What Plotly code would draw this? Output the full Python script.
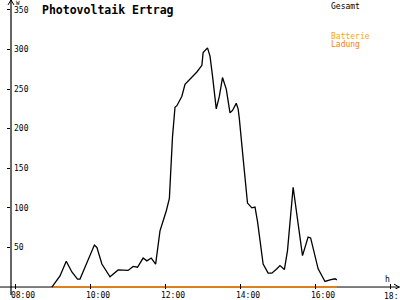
import plotly.graph_objects as go

# ---- data ----
times = ["08:59","09:12","09:22","09:31","09:40","09:44","09:52","10:07","10:11","10:19",
         "10:32","10:45","11:01","11:09","11:16","11:25","11:31","11:38","11:45","11:52",
         "12:02","12:07","12:12","12:16","12:19","12:27","12:32","12:40","12:51","12:59",
         "13:01","13:08","13:12","13:16","13:22","13:27","13:32","13:38","13:44","13:48",
         "13:54","13:57","13:59","14:05","14:12","14:19","14:24","14:28","14:37","14:45",
         "14:51","14:59","15:04","15:11","15:16","15:25","15:33","15:40","15:49","15:53",
         "16:05","16:16","16:24","16:32","16:35"]
gesamt = [0,14,32.5,19,10,10,25,53,50,29,
          13,21.6,21,26,25,36.6,33,36.6,29,71,
          96,112,189.6,227,229,241,256,262.5,271.6,280,
          296,302,291.6,266.6,225,241,264.6,250,220,223,
          232,225,212,162.5,106,100,101,83,29,17.5,
          17.5,23,27,22,46,126,79,39.6,63,62,
          23,7,9,10.4,9]
ladung = [0] * len(times)

x_tick_vals = [8, 10, 12, 14, 16, 18]
x_tick_text = ["08:00", "10:00", "12:00", "14:00", "16:00", "18:"]  # last label is cut at the edge
y_tick_vals = [50, 100, 150, 200, 250, 300, 350]

title_text = "Photovoltaik Ertrag"
legend_items = [("Gesamt", "#000000"), ("Batterie", "#FFA500"), ("Ladung", "#FF8000")]


def to_hours(s):
    h, m = s.split(":")
    return int(h) + int(m) / 60.0


hours = [to_hours(t) for t in times]

FONT = "DejaVu Sans Mono"
W, H = 400, 300
ML, MR, MT, MB = 11, 0, 0, 8
PW = W - ML - MR
PH = H - MT - MB
PX_PER_H = 37.5
X0 = 8 - 4 / PX_PER_H
X1 = X0 + PW / PX_PER_H
PX_PER_W = 0.8
Y0 = -2 / PX_PER_W
Y1 = Y0 + PH / PX_PER_W

fig = go.Figure()
fig.add_trace(go.Scatter(x=hours, y=ladung, mode="lines",
                         line=dict(color="#FF8000", width=1.6), name="Ladung"))
fig.add_trace(go.Scatter(x=hours, y=gesamt, mode="lines",
                         line=dict(color="#000000", width=1.3), name="Gesamt"))

# last tick label is placed as a right-aligned annotation so it does not overflow the page
axis_ticktext = x_tick_text[:-1] + [""]

fig.update_layout(
    width=W, height=H,
    margin=dict(l=ML, r=MR, t=MT, b=MB),
    paper_bgcolor="white", plot_bgcolor="white",
    showlegend=False,
    font=dict(family=FONT, size=8, color="black"),
    xaxis=dict(range=[X0, X1], tickvals=x_tick_vals, ticktext=axis_ticktext,
               showgrid=False, zeroline=False, showline=False,
               ticks="inside", ticklen=5, tickcolor="black", tickwidth=1,
               ticklabeloverflow="allow", ticklabelshift=8,
               tickfont=dict(family=FONT, size=8, color="black")),
    yaxis=dict(range=[Y0, Y1], tickvals=y_tick_vals,
               showgrid=False, zeroline=False, showline=False,
               ticks="outside", ticklen=3, tickcolor="black", tickwidth=1,
               ticklabelposition="inside", ticklabeloverflow="allow",
               tickfont=dict(family=FONT, size=8, color="black")),
)

fig.add_annotation(text=x_tick_text[-1], xref="paper", yref="paper", x=1, y=0,
                   xanchor="right", yanchor="top", yshift=-1, showarrow=False,
                   font=dict(family=FONT, size=8, color="black"))

# axis lines
fig.add_shape(type="line", xref="paper", yref="y", x0=-ML / PW, x1=1, y0=0, y1=0,
              line=dict(color="black", width=1), layer="below")
fig.add_shape(type="line", xref="paper", yref="paper", x0=0, x1=0, y0=-6 / PH, y1=1,
              line=dict(color="black", width=1.2), layer="below")
# arrowheads
fig.add_shape(type="path", xref="paper", yref="paper",
              path=f"M {-3/PW} {1-5/PH} L 0 1 L {3/PW} {1-5/PH}",
              line=dict(color="black", width=1))
fig.add_shape(type="path", xref="paper", yref="y",
              path=f"M {1-6/PW} {3/PX_PER_W} L {1-1/PW} 0 L {1-6/PW} {-3/PX_PER_W}",
              line=dict(color="black", width=1))

# title and labels
fig.add_annotation(text=f"<b>{title_text}</b>", xref="paper", yref="paper",
                   x=29 / PW, y=1 - 1 / PH, xanchor="left", yanchor="top", showarrow=False,
                   font=dict(family=FONT, size=11.5, color="black"))
fig.add_annotation(text="W", xref="paper", yref="paper", x=3 / PW, y=1 + 3 / PH,
                   xanchor="left", yanchor="top", showarrow=False,
                   font=dict(family=FONT, size=6, color="black"))
fig.add_annotation(text="h", xref="paper", yref="y", x=1 - 17 / PW, y=1 / PX_PER_W,
                   xanchor="left", yanchor="bottom", showarrow=False,
                   font=dict(family=FONT, size=8, color="black"))

legend_y = [0, 30, 38]
for (txt, col), ly in zip(legend_items, legend_y):
    fig.add_annotation(text=txt, xref="paper", yref="paper",
                       x=(329 - ML) / PW, y=1 - ly / PH, xanchor="left", yanchor="top",
                       showarrow=False, font=dict(family=FONT, size=8, color=col))

fig.write_html("out.html")
